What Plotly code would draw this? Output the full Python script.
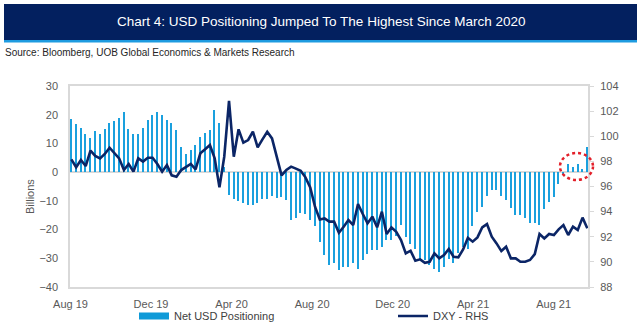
import pandas as pd
import plotly.graph_objects as go

# ---------------- data ----------------
start_date = "2019-08-20"
n_weeks = 109

net_usd_positioning = [
    18.5, 16.7, 15.3, 13.4, 11.8, 14.2, 13.4, 15.0, 17.2, 17.7,
    18.9, 21.1, 15.0, 13.4, 13.4, 15.4, 18.1, 19.9, 21.1, 19.9,
    18.1, 17.2, 14.6, 8.9, 6.4, 7.7, 9.4, 12.4, 13.6, 14.6,
    21.6, 17.2, 1.9, -8.0, -9.3, -9.9, -10.6, -11.4, -11.4, -10.7,
    -9.3, -9.3, -8.4, -8.9, -8.6, -9.8, -16.5, -16.0, -14.1, -14.6,
    -16.8, -18.8, -24.5, -28.9, -32.4, -31.8, -34.1, -33.0, -33.0, -31.8,
    -33.6, -30.7, -28.6, -27.2, -27.2, -26.0, -23.7, -23.7, -22.2, -18.5,
    -22.5, -24.9, -26.9, -30.1, -30.7, -32.4, -33.6, -34.7, -33.0, -30.1,
    -31.8, -28.3, -26.0, -26.9, -18.8, -13.8, -12.1, -8.4, -6.3, -6.3,
    -8.4, -9.8, -12.4, -15.0, -15.0, -16.1, -17.6, -17.6, -18.5, -12.7,
    -10.3, -8.6, -4.0, -0.4, 2.8, 1.8, 2.8, 1.0, 8.6,
]

dxy = [
    98.16, 97.53, 98.11, 97.63, 98.85, 98.43, 98.24, 98.59, 99.09, 98.69,
    98.24, 97.31, 97.79, 97.18, 98.24, 97.98, 98.29, 98.29, 97.79, 97.18,
    97.71, 96.89, 96.78, 97.31, 97.58, 97.79, 97.36, 98.64, 98.96, 99.30,
    98.24, 95.93, 98.37, 102.81, 98.37, 100.55, 99.49, 99.70, 100.36, 99.12,
    99.75, 100.36, 99.83, 98.37, 96.89, 97.31, 97.58, 97.42, 97.25, 96.73,
    95.93, 94.39, 93.38, 93.46, 93.20, 93.20, 92.32, 92.80, 93.33, 92.93,
    94.61, 93.81, 93.07, 93.60, 92.75, 93.99, 92.22, 92.75, 92.40, 91.74,
    90.68, 90.89, 90.09, 90.20, 89.93, 90.01, 90.68, 90.28, 90.54, 91.02,
    90.41, 90.36, 90.99, 91.92, 91.61, 91.95, 92.75, 93.01, 92.00, 91.47,
    90.86, 91.21, 90.28, 90.28, 90.01, 90.01, 90.15, 90.62, 92.22, 91.87,
    92.22, 92.14, 92.59, 92.93, 92.14, 92.80, 92.53, 93.52, 92.67,
]

tick_labels = ["Aug 19", "Dec 19", "Apr 20", "Aug 20", "Dec 20", "Apr 21", "Aug 21"]
left_ticks = [30, 20, 10, 0, -10, -20, -30, -40]
right_ticks = [104, 102, 100, 98, 96, 94, 92, 90, 88]

title_text = "Chart 4: USD Positioning Jumped To The Highest Since March 2020"
source_text = "Source: Bloomberg, UOB Global Economics & Markets Research"

# ---------------- styling ----------------
FONT = "Liberation Sans, Arial, sans-serif"
BAR_COLOR = "#1aa0de"
LINE_COLOR = "#0b2566"
NAVY = "#03205f"
GRID = "#d9d9d9"
TICK_COLOR = "#595959"

dates = pd.date_range(start_date, periods=n_weeks, freq="7D")
x_start = dates[0] - pd.Timedelta(days=2)
x_end = dates[-1] + pd.Timedelta(days=1)
tick_dates = [x_start + pd.Timedelta(days=0.7 + 118 * i) for i in range(len(tick_labels))]

fig = go.Figure()

fig.add_trace(go.Bar(
    x=dates, y=net_usd_positioning, name="Net USD Positioning",
    marker=dict(color=BAR_COLOR, line=dict(width=0)),
    width=2.1 * 86400000, showlegend=False, yaxis="y",
))
# legend entry drawn as a wide swatch
fig.add_trace(go.Scatter(
    x=[None], y=[None], mode="lines", name="Net USD Positioning",
    line=dict(color="#0f9ad8", width=7), legend="legend", yaxis="y",
))
fig.add_trace(go.Scatter(
    x=dates, y=dxy, mode="lines", name="DXY - RHS",
    line=dict(color=LINE_COLOR, width=2.6), yaxis="y2", legend="legend2",
))

W, H = 641, 332
L, R, T, B = 70, 53, 86, 45
pw, ph = W - L - R, H - T - B


def px_x(p):
    return (p - L) / pw


def px_y(p):
    return (H - B - p) / ph


fig.update_layout(
    width=W, height=H,
    margin=dict(l=L, r=R, t=T, b=B, autoexpand=False),
    paper_bgcolor="white", plot_bgcolor="white",
    font=dict(family=FONT, size=11, color=TICK_COLOR),
    bargap=0,
    xaxis=dict(
        type="date", range=[x_start, x_end],
        tickvals=tick_dates, ticktext=tick_labels,
        showgrid=False, zeroline=False,
        showline=True, linecolor=GRID, linewidth=1.5, mirror=True,
        ticks="", ticklabelstandoff=6,
        tickfont=dict(size=11, color=TICK_COLOR),
    ),
    yaxis=dict(
        range=[-40, 30], tickvals=left_ticks,
        showgrid=False, zeroline=True, zerolinecolor=GRID, zerolinewidth=1.5,
        showline=True, linecolor=GRID, linewidth=1.5, mirror=True,
        ticks="", ticklabelstandoff=8,
        tickfont=dict(size=11, color=TICK_COLOR),
    ),
    yaxis2=dict(
        overlaying="y", side="right", range=[88, 104], tickvals=right_ticks,
        showgrid=False, zeroline=False, showline=False,
        ticks="outside", ticklen=5, tickcolor=GRID, tickwidth=1,
        ticklabelstandoff=4,
        tickfont=dict(size=11, color=TICK_COLOR),
    ),
    legend=dict(
        x=px_x(134), y=px_y(316), xanchor="left", yanchor="middle",
        orientation="h", font=dict(size=11, color="#404040"),
        bgcolor="rgba(0,0,0,0)",
    ),
    legend2=dict(
        x=px_x(393), y=px_y(316), xanchor="left", yanchor="middle",
        orientation="h", font=dict(size=11, color="#404040"),
        bgcolor="rgba(0,0,0,0)",
    ),
    shapes=[
        dict(type="rect", xref="paper", yref="paper",
             x0=px_x(4), x1=px_x(637), y0=px_y(40), y1=px_y(4),
             fillcolor=NAVY, line=dict(width=0), layer="below"),
        dict(type="rect", xref="paper", yref="paper",
             x0=px_x(4), x1=px_x(637), y0=px_y(42.5), y1=px_y(40),
             fillcolor="#1e9be0", line=dict(width=0), layer="below"),
        dict(type="circle", xref="paper", yref="paper",
             x0=px_x(560), x1=px_x(593), y0=px_y(180), y1=px_y(153),
             line=dict(color="#e3202a", width=2.5, dash="dot")),
    ],
    annotations=[
        dict(text=title_text, xref="paper", yref="paper",
             x=px_x(321), y=px_y(21), xanchor="center", yanchor="middle",
             showarrow=False, font=dict(size=13.5, color="white", family=FONT)),
        dict(text=source_text, xref="paper", yref="paper",
             x=px_x(3), y=px_y(53), xanchor="left", yanchor="middle",
             showarrow=False, font=dict(size=10, color="#262626", family=FONT)),
        dict(text="Billions", xref="paper", yref="paper",
             x=px_x(30), y=px_y(197), xanchor="center", yanchor="middle",
             textangle=-90, showarrow=False,
             font=dict(size=11, color=TICK_COLOR, family=FONT)),
    ],
)

fig.write_html("out.html")
